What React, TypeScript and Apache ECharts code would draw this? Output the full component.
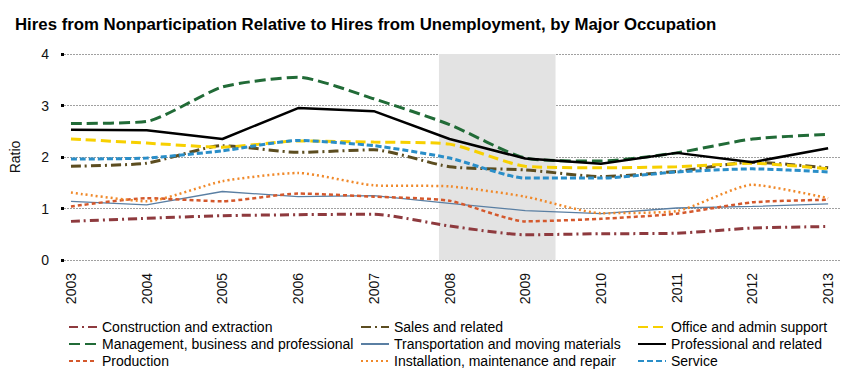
import React, { useEffect, useRef } from "react";
import * as echarts from "echarts";

const years = [2003, 2004, 2005, 2006, 2007, 2008, 2009, 2010, 2011, 2012, 2013];

const construction = [0.75, 0.81, 0.86, 0.88, 0.89, 0.66, 0.49, 0.51, 0.52, 0.62, 0.65];
const sales = [1.82, 1.88, 2.22, 2.09, 2.14, 1.81, 1.75, 1.62, 1.72, 1.9, 1.79];
const office = [2.35, 2.27, 2.19, 2.31, 2.29, 2.25, 1.82, 1.79, 1.81, 1.88, 1.77];
const management = [2.65, 2.69, 3.36, 3.55, 3.13, 2.63, 1.98, 1.92, 2.08, 2.35, 2.44];
const transportation = [1.14, 1.07, 1.33, 1.23, 1.25, 1.1, 0.96, 0.9, 1.01, 1.04, 1.09];
const professional = [2.53, 2.52, 2.35, 2.95, 2.89, 2.35, 1.97, 1.87, 2.08, 1.9, 2.17];
const production = [1.04, 1.2, 1.14, 1.29, 1.23, 1.15, 0.75, 0.8, 0.9, 1.12, 1.17];
const installation = [1.31, 1.14, 1.53, 1.69, 1.45, 1.43, 1.23, 0.91, 0.95, 1.46, 1.2];
const service = [1.96, 1.98, 2.12, 2.32, 2.22, 1.98, 1.59, 1.59, 1.71, 1.77, 1.71];

const recession = [2007.86, 2009.4];
const yTicks = [0, 1, 2, 3, 4];

const FONT = "'Liberation Sans', Arial, sans-serif";

const pair = (arr: number[]) => years.map((y, i) => [y, arr[i]]);

export default function App() {
  const ref = useRef<HTMLDivElement>(null);
  useEffect(() => {
    if (!ref.current) return;
    const chart = echarts.init(ref.current, null, { renderer: "svg" });
    const mk = (
      name: string,
      data: number[],
      color: string,
      width: number,
      type: any,
      smooth: number | boolean,
      extra: any = {}
    ) => ({
      name,
      type: "line",
      data: pair(data),
      symbol: "none",
      smooth,
      lineStyle: { color, width, type },
      itemStyle: { color },
      ...extra,
    });
    const legendBase = {
      orient: "vertical",
      padding: 0,
      itemWidth: 28,
      itemHeight: 14,
      itemGap: 3,
      top: 320,
      itemStyle: { opacity: 0 },
      textStyle: { fontFamily: FONT, fontSize: 14, color: "#000" },
    };
    chart.setOption({
      animation: false,
      title: {
        text: "Hires from Nonparticipation Relative to Hires from Unemployment, by Major Occupation",
        left: 15,
        top: 16,
        padding: 0,
        textStyle: { fontFamily: FONT, fontSize: 16.8, fontWeight: "bold", color: "#000" },
      },
      grid: { left: 63, right: 9, top: 54, bottom: 124, containLabel: false },
      xAxis: {
        type: "value",
        min: 2002.908,
        max: 2013.17,
        splitLine: { show: false },
        axisLine: { show: false },
        axisTick: { show: false },
        axisLabel: {
          customValues: years,
          rotate: 90,
          margin: 13,
          formatter: (v: number) => String(v),
          fontFamily: FONT,
          fontSize: 14,
          color: "#111",
        },
      },
      yAxis: {
        type: "value",
        min: 0,
        max: 4,
        interval: 1,
        name: "Ratio",
        nameLocation: "middle",
        nameRotate: 90,
        nameGap: 42,
        nameTextStyle: { fontFamily: FONT, fontSize: 14, color: "#111" },
        axisLine: { show: false },
        axisTick: { show: true, length: 3, lineStyle: { color: "#000", width: 3 } },
        axisLabel: {
          margin: 15,
          fontFamily: FONT,
          fontSize: 14,
          color: "#111",
          formatter: (v: number) => (yTicks.includes(v) ? String(v) : ""),
        },
        splitLine: { show: true, lineStyle: { color: "#a0a0a0", type: [2, 1], width: 1 } },
      },
      legend: [
        { ...legendBase, left: 68, data: ["Construction and extraction", "Management, business and professional", "Production"] },
        { ...legendBase, left: 360, data: ["Sales and related", "Transportation and moving materials", "Installation, maintenance and repair"] },
        { ...legendBase, left: 637, data: ["Office and admin support", "Professional and related", "Service"] },
      ],
      series: [
        mk("Construction and extraction", construction, "#8e3a3e", 3, [9, 4, 2, 4], 0.2, {
          markArea: {
            silent: true,
            itemStyle: { color: "#e3e3e3" },
            data: [[{ xAxis: recession[0] }, { xAxis: recession[1] }]],
          },
          z: 3,
        }),
        mk("Sales and related", sales, "#5c4d20", 3, [10, 4, 2, 4], 0.2),
        mk("Office and admin support", office, "#f7d000", 3, [10, 5], 0.2),
        mk("Management, business and professional", management, "#216b37", 3, [11, 5], 0.2),
        mk("Transportation and moving materials", transportation, "#5a7fa3", 1.3, "solid", false),
        mk("Professional and related", professional, "#000000", 2.5, "solid", false),
        mk("Production", production, "#d4582c", 2.5, [4, 3], 0.2),
        mk("Installation, maintenance and repair", installation, "#f0892a", 2.5, [2, 3], 0.2),
        mk("Service", service, "#2a8ec8", 3, [6, 3], 0.2),
      ],
    });
    return () => chart.dispose();
  }, []);
  return <div ref={ref} style={{ position: "absolute", left: 0, top: 0, width: 850, height: 384 }} />;
}
